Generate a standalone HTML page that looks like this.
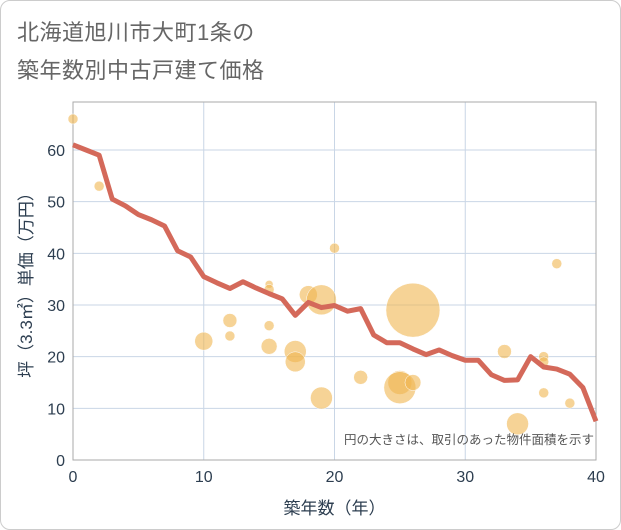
<!DOCTYPE html>
<html><head><meta charset="utf-8"><style>
body{margin:0;background:#fff;font-family:"Liberation Sans","Noto Sans CJK JP",sans-serif}
#wrap{position:relative;width:619px;height:528px;border:1px solid #ccc;border-radius:10px;overflow:hidden}
.t{position:absolute;left:16px;color:#666;font-size:22px;letter-spacing:0.5px}
</style></head><body>
<div id="wrap">
<div class="t" style="top:14px">北海道旭川市大町1条の</div>
<div class="t" style="top:52px">築年数別中古戸建て価格</div>
<svg id="c" width="621" height="530" style="position:absolute;left:-1px;top:-1px"></svg>
</div>
<script>
const lineYears=[0,1,2,3,4,5,6,7,8,9,10,11,12,13,14,15,16,17,18,19,20,21,22,23,24,25,26,27,28,29,30,31,32,33,34,35,36,37,38,39,40];
const lineValues=[61,60,59,50.5,49.2,47.5,46.5,45.3,40.5,39.3,35.5,34.3,33.2,34.5,33.3,32.2,31.2,28,30.5,29.5,29.9,28.8,29.3,24.2,22.7,22.7,21.5,20.4,21.3,20.2,19.3,19.3,16.5,15.4,15.5,20,18,17.6,16.6,14,7.5];
const bubbleX=[0,2,10,12,12,15,15,15,15,17,17,18,19,19,20,22,25,25,26,26,33,34,36,36,36,37,38];
const bubbleY=[66,53,23,27,24,34,33,26,22,21,19,32,31,12,41,16,15,14,29,15,21,7,20,19,13,38,11];
const bubbleR=[5,5,9,7,5,4,5,5,8,11,10,9,15,11,5,7,12,16,27,8,7,11,5,5,5,5,5];
const xTicks=[0,10,20,30,40];
const yTicks=[0,10,20,30,40,50,60];
const L=73,R=596,T=102,B=460;
const xs=v=>L+(R-L)*v/40, ys=v=>B-(B-150)*v/60;
const svg=document.getElementById('c'),NS='http://www.w3.org/2000/svg';
function mk(t,a,p){const e=document.createElementNS(NS,t);for(const k in a)e.setAttribute(k,a[k]);(p||svg).appendChild(e);return e;}
const grid=mk('g',{});


yTicks.forEach(v=>{if(v>0){const l=mk('line',{x1:L,x2:R,y1:ys(v),y2:ys(v),stroke:'#c9d6e6','stroke-width':1},grid);

}
const t=mk('text',{x:L-8,y:ys(v)+6,'text-anchor':'end','font-size':16,fill:'#2d3e50'});t.textContent=v;

});
xTicks.forEach(v=>{if(v>0&&v<40){const l=mk('line',{x1:xs(v),x2:xs(v),y1:T,y2:B,stroke:'#c9d6e6','stroke-width':1},grid);

}
const t=mk('text',{x:xs(v),y:B+22,'text-anchor':'middle','font-size':16,fill:'#2d3e50'});t.textContent=v;

});
const fr=mk('rect',{x:L,y:T,width:R-L,height:B-T,fill:'none',stroke:'#aaa','stroke-width':1});


bubbleX.forEach((x,i)=>{const c=mk('circle',{cx:xs(x),cy:ys(bubbleY[i]),r:bubbleR[i],fill:'#f0b550','fill-opacity':0.6,stroke:'#fff','stroke-width':0.5});

});
const p=mk('polyline',{points:lineYears.map((y,i)=>xs(y)+','+ys(lineValues[i])).join(' '),fill:'none',stroke:'#d4695a','stroke-width':5,'stroke-linejoin':'round'});


const note=mk('text',{x:594,y:444,'text-anchor':'end','font-size':12.5,fill:'#555'});note.textContent='円の大きさは、取引のあった物件面積を示す';


const xl=mk('text',{x:(L+R)/2,y:514,'text-anchor':'middle','font-size':17,fill:'#2d3e50'});xl.textContent='築年数（年）';


const yl=mk('text',{x:0,y:0,'text-anchor':'middle','font-size':17,fill:'#2d3e50',transform:'translate(32,'+((T+B)/2)+') rotate(-90)'});yl.textContent='坪（3.3㎡）単価（万円）';


</script>
</body></html>
